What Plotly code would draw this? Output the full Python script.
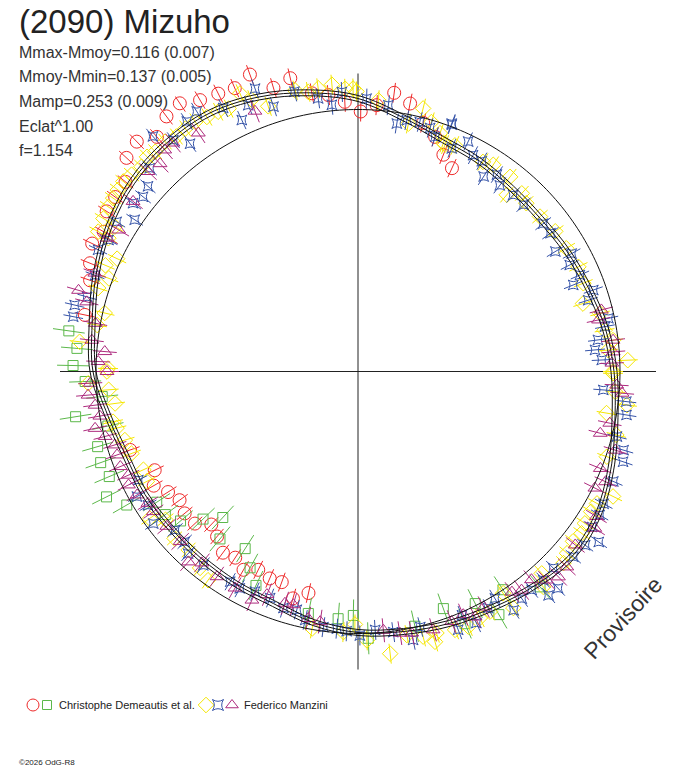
import numpy as np
import plotly.graph_objects as go

TITLE = "(2090) Mizuho"
INFO_LINES = [
    "Mmax-Mmoy=0.116 (0.007)",
    "Mmoy-Mmin=0.137 (0.005)",
    "Mamp=0.253 (0.009)",
    "Eclat^1.00",
    "f=1.154",
]
OBSERVERS = ["Christophe Demeautis et al.", "Federico Manzini"]
WATERMARK = "Provisoire"
COPYRIGHT = "\u00a92026 OdG-R8"

# radial scale: mean-brightness ring, axis cross length, outer limit (same arbitrary units)
RING_R = 262
CROSS_R = 298
OUTER_R = 330

# fitted lightcurve (polar), phase angle in degrees
MODEL_THETA = [0, 10, 20, 30, 40, 50, 60, 70, 80, 90, 100, 110, 120, 130, 140, 150, 160, 170,
               180, 190, 200, 210, 220, 230, 240, 250, 260, 270, 280, 290, 300, 310, 320, 330, 340, 350]
MODEL_R = [256, 251, 245, 241, 238, 239, 243, 247, 258, 273, 283, 292, 298, 298, 295, 288, 279, 270,
           265, 254, 247, 246, 244, 244, 245, 247, 255, 261, 264, 268, 272, 278, 283, 279, 270, 261]
MODEL_SPREAD = 3

# Demeautis et al. - session 1 (red circles)
red_theta = [113.5, 116.7, 120.2, 123.6, 126.9, 130.6, 133.9, 137.3, 140.8, 144.3, 147.5, 151.2,
             154.3, 158, 161.2, 168.3, 106.6, 103, 110, 99.4, 96.1, 92.8, 89.4, 86, 82.6, 79,
             75.3, 71.8, 68.5, 65.2,
             199, 205.9, 209.2, 212.4, 215.8, 219.3, 223, 226.2, 229.5, 233.3, 236.6, 240,
             243.3, 246.9, 250.1, 254, 257.4]
red_r = [309, 311, 314, 322, 319, 309, 319, 315, 300, 299, 298, 290,
         295, 289, 283, 279, 296, 301, 316, 282, 278, 270, 260, 267, 281, 273,
         257, 247, 233, 224,
         241, 226, 234, 225, 220, 224, 223, 212, 217, 226, 223, 229,
         222, 225, 224, 236, 227]
red_err = 10

# Demeautis et al. - session 2 (green squares)
green_theta = [172, 175.3, 178.8, 182.1, 185.6, 189.1, 192.3, 196.1, 199.5, 202.9, 206.5, 210,
               213, 216.6, 220.1, 223.6, 227.2, 230.5, 237.5, 241.2, 244.5, 258.4, 265.4, 268.9,
               272.2, 282.6, 289.8, 293, 296.8, 300.1, 303.6, 310.2]
green_r = [292, 282, 285, 273, 257, 286, 256, 271, 273, 270, 281, 267,
           240, 240, 232, 214, 199, 217, 210, 224, 237, 247, 248, 244,
           267, 261, 252, 274, 260, 281, 262, 282]
green_err = 16

# Manzini - session A (yellow diamonds)
yellow_theta = [95.2, 98, 100.1, 102.6, 108.7, 111.4, 113, 116.2, 118.3, 120.7, 123.1, 125.4,
                127.7, 130, 132.7, 134.5, 136.6, 139, 141, 142.9, 144.7, 146.6, 149, 149.2,
                151.7, 151.9, 154.9, 157.2, 159.5, 162.2, 167, 169.9, 173.9, 179.3, 91,
                92.6, 90.3, 85.7, 76.1, 69.5, 78.5, 73.6, 71, 69, 66.8, 59.2, 56.8, 52, 49.9,
                47.4, 45, 40.4, 35.4, 30.6, 25.4, 21.4, 16.8, 13.5, 9.5, 7, 4.9, 2.4, 0,
                -0.4, -4.5, -9.5, -7.1, -13.8, -18.9, -26.1, -28.9, -31, -33.8, -35.9, -38.3,
                -41, -43, -47.7, -49.3, -56.7, -56.8, -61.2, -63.7, -66.6, -69.4, -73.3, -76.2,
                -79.5, -83.5, -93.2, -88.1, -74.1,
                180, 182.5, 184.2, 187.5, 191.6, 193.2, 196.4, 199.9, 204.6, 207.5, 215.2,
                217.6, 222.3, 226.5, 231.2, 234.3, 259.9, 269.3]
yellow_r = [288, 286, 284, 288, 280, 292, 302, 293, 295, 296, 298, 298,
            297, 300, 299, 301, 298, 300, 302, 301, 300, 299, 297, 283,
            295, 283, 266, 274, 266, 273, 260, 265, 280, 250, 283,
            283, 280, 272, 271, 244, 253, 260, 252, 243, 246, 244, 247, 247, 231,
            242, 238, 239, 242, 242, 244, 242, 235, 249, 250, 257, 251, 270, 255,
            255, 258, 252, 271, 266, 263, 284, 273, 272, 273, 276, 274,
            277, 281, 273, 284, 283, 265, 274, 275, 278, 276, 273, 273,
            268, 284, 261, 269, 281,
            251, 270, 250, 245, 250, 248, 243, 241, 236, 238, 255,
            243, 248, 246, 252, 257, 261, 253]
yellow_err = 10

# Manzini - session B (blue stars)
blue_theta = [110, 114.8, 112.4, 107.7, 102.8, 98.3, 95.6, 93.3, 117.1, 121.8, 124.4, 126.4,
              128.6, 131.1, 135.7, 138.6, 140.9, 143.2, 145.8, 148.2, 152.2, 154.9, 159.9,
              164.6, 166.8, 169.1,
              88.2, 83.5, 81.1, 76.1, 69.2, 71.8, 79, 73.5, 69.3, 67.2, 64.4, 62, 59.5, 57.2,
              54.8, 52.7, 48.7, 45.2, 38.6, 35.7, 31.3, 28.9, 26.7, 23.5, 21.9, 19.1, 17.2,
              10.3, 7.5, 5.2, 2.7, 12,
              -4.3, -6.4, -9.2, -14.1, -16.5, -18.8, -23.3, -28.3, -30.7, -33.6, -35.3, -37.4,
              -40.7, -47.3, -49.6, -45.2, -48.4, -51.5, -54.2, -56.9, -58.9, -61.2, -64.8,
              -68.8, -66.9, -76.3, -78.4, -82.3, -86.2, -89.6, -92.5,
              206.3, 212.5, 216.6, 220.9, 224.5, 227, 231.4, 238.7, 241.4, 244.9, 248.8,
              252.5, 255.6, 258, 262.3, 265.3, 209.5]
blue_r = [301, 277, 288, 278, 287, 276, 268, 280, 296, 306, 303, 283,
          296, 312, 291, 280, 277, 281, 270, 284, 282, 287, 280,
          281, 291, 290,
          273, 268, 251, 257, 264, 247, 256, 254, 265, 242, 255, 245, 244, 232,
          241, 234, 235, 235, 237, 237, 231, 244, 237, 242, 232, 249, 241,
          251, 242, 238, 244, 256,
          246, 270, 272, 267, 277, 280, 278, 279, 281, 281, 295, 286,
          284, 295, 294, 277, 279, 279, 280, 285, 265, 270, 278,
          277, 265, 263, 274, 263, 259, 264, 260,
          245, 249, 255, 242, 243, 249, 248, 246, 247, 243, 243,
          248, 246, 254, 258, 258, 254]
blue_err = 10

# Manzini - session C (purple triangles)
purple_theta = [111.6, 123.8, 129, 131.1, 133.6, 136.4, 142.9, 149.4, 152, 159.5, 163.8, 165.6,
                169.6, 173.3, 175.5, 177.8, 180,
                182.5, 185, 187.3, 189.8, 192.2, 194.4, 196.8, 199.1, 201.8, 204.3, 206.3,
                209.2, 212.1, 214.4, 219, 223.7, 228.3, 230.8, 235.5, 240.4, 245.1, 247.8,
                252.5, 254.5, 258.6, 261.4,
                14.2, 12.1, 7, 4.4, 1.9, -3, -4.7, -11.6, -14.3, -17, -21.8, -24, -26.2,
                -31.3, -33.5, -38.6, -43.1, -45.7, -47.9, -50.2, -53.2, -55.1, -61.9, -64.5,
                -66.6, -69.5, -73.8, -78.4, -80.9, -84.4]
purple_r = [280, 287, 294, 294, 287, 290, 282, 278, 284, 281, 291, 280,
            267, 268, 254, 260, 251,
            268, 271, 265, 262, 269, 261, 254, 255, 256, 252, 256,
            253, 248, 248, 246, 246, 255, 247, 249, 249, 252, 241,
            243, 242, 252, 253,
            251, 246, 257, 256, 254, 259, 265, 257, 250, 269, 261, 271, 264,
            279, 284, 278, 286, 287, 281, 271, 273, 269, 267, 272,
            265, 267, 269, 267, 265, 260]
purple_err = 12

RED, GREEN, YELLOW, BLUE, PURPLE = "#ee2a2a", "#5cb84a", "#f5e600", "#3553a8", "#ad2b7e"

SERIES = [
    (red_theta, red_r, red_err, RED, "circle-open", 13),
    (green_theta, green_r, green_err, GREEN, "square-open", 10),
    (yellow_theta, yellow_r, yellow_err, YELLOW, "diamond-open", 12),
    (blue_theta, blue_r, blue_err, BLUE, "star-square-open", 9),
    (purple_theta, purple_r, purple_err, PURPLE, "triangle-up-open", 12),
]


def error_segments(theta, r, err):
    seg_t, seg_r = [], []
    for t, v in zip(theta, r):
        seg_t += [t, t, None]
        seg_r += [v - err, v + err, None]
    return seg_t, seg_r


fig = go.Figure()

# axis cross
cross_t, cross_r = [], []
for t in (0, 90, 180, 270):
    cross_t += [t, t, None]
    cross_r += [0, CROSS_R, None]
fig.add_trace(go.Scatterpolar(
    theta=cross_t, r=cross_r, mode="lines",
    line=dict(color="#222222", width=1), hoverinfo="skip",
))

for theta, r, err, color, symbol, size in SERIES:
    seg_t, seg_r = error_segments(theta, r, err)
    fig.add_trace(go.Scatterpolar(
        theta=seg_t, r=seg_r, mode="lines",
        line=dict(color=color, width=1), hoverinfo="skip",
    ))
    fig.add_trace(go.Scatterpolar(
        theta=theta, r=r, mode="markers",
        marker=dict(symbol=symbol, size=size, color=color, line=dict(color=color, width=1)),
    ))

ring_theta = np.linspace(0, 360, 361)
fig.add_trace(go.Scatterpolar(
    theta=ring_theta, r=[RING_R] * len(ring_theta), mode="lines",
    line=dict(color="#111111", width=1), hoverinfo="skip",
))

closed_theta = MODEL_THETA + [MODEL_THETA[0] + 360]
closed_r = MODEL_R + [MODEL_R[0]]
for offset in (-MODEL_SPREAD, 0, MODEL_SPREAD):
    fig.add_trace(go.Scatterpolar(
        theta=closed_theta, r=[v + offset for v in closed_r], mode="lines",
        line=dict(color="#111111", width=1, shape="spline", smoothing=1),
        hoverinfo="skip",
    ))

# legend strip drawn on a hidden pixel-scaled cartesian axis
LEGEND_Y = 705
legend_marks = [
    (33, RED, "circle-open", 12),
    (47, GREEN, "square-open", 9),
    (206, YELLOW, "diamond-open", 12),
    (218, BLUE, "star-square-open", 10),
    (232, PURPLE, "triangle-up-open", 11),
]
for x, color, symbol, size in legend_marks:
    fig.add_trace(go.Scatter(
        x=[x], y=[LEGEND_Y], mode="markers", xaxis="x", yaxis="y",
        marker=dict(symbol=symbol, size=size, color=color, line=dict(color=color, width=1)),
        hoverinfo="skip",
    ))

H = 768.0
W = 688.0
CX, CY = 358, 371.5
annotations = [
    dict(text=TITLE, x=17 / W, y=1 - 21 / H, xanchor="left", yanchor="middle",
         font=dict(size=33, color="#222222")),
]
for i, line in enumerate(INFO_LINES):
    annotations.append(dict(text=line, x=17 / W, y=1 - (52 + 24.7 * i) / H,
                            xanchor="left", yanchor="middle",
                            font=dict(size=16, color="#333333")))
annotations += [
    dict(text=OBSERVERS[0], x=57 / W, y=1 - LEGEND_Y / H, xanchor="left", yanchor="middle",
         font=dict(size=11, color="#222222")),
    dict(text=OBSERVERS[1], x=242 / W, y=1 - LEGEND_Y / H, xanchor="left", yanchor="middle",
         font=dict(size=11, color="#222222")),
    dict(text=COPYRIGHT, x=17 / W, y=1 - 762 / H, xanchor="left", yanchor="middle",
         font=dict(size=8, color="#222222")),
    dict(text=WATERMARK, x=623 / W, y=1 - 618 / H, xanchor="center", yanchor="middle",
         textangle=-47, font=dict(size=23, color="#333333")),
]
for a in annotations:
    a.update(xref="paper", yref="paper", showarrow=False)

fig.update_layout(
    width=688,
    height=768,
    margin=dict(l=0, r=0, t=0, b=0),
    paper_bgcolor="white",
    plot_bgcolor="rgba(0,0,0,0)",
    showlegend=False,
    font=dict(family="Liberation Sans, Arial, sans-serif"),
    annotations=annotations,
    polar=dict(
        domain=dict(x=[(CX - OUTER_R) / W, (CX + OUTER_R) / W],
                    y=[1 - (CY + OUTER_R) / H, 1 - (CY - OUTER_R) / H]),
        bgcolor="rgba(0,0,0,0)",
        radialaxis=dict(visible=False, range=[0, OUTER_R]),
        angularaxis=dict(visible=False, rotation=0, direction="counterclockwise"),
    ),
    xaxis=dict(domain=[0, 1], range=[0, W], visible=False, fixedrange=True),
    yaxis=dict(domain=[0, 0.1], range=[H, H * 0.9], visible=False, fixedrange=True),
)

fig.write_html("out.html", config={"displayModeBar": False},
               post_script="document.body.style.margin='0px';")
